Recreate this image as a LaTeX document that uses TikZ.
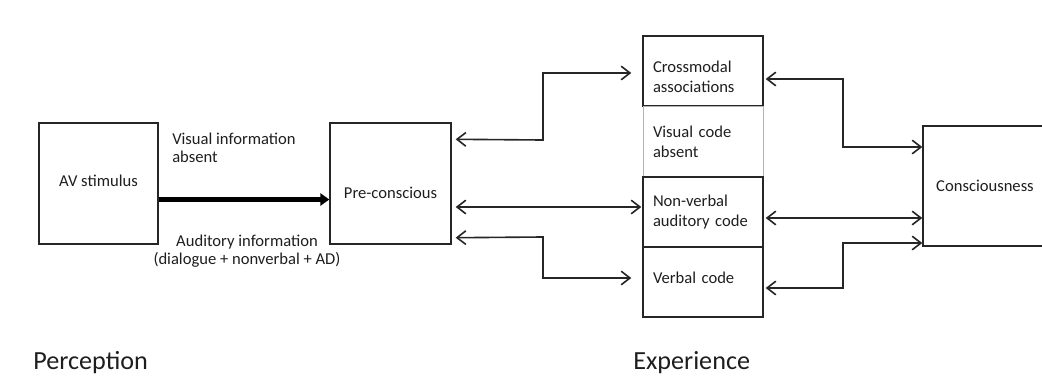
\documentclass[tikz,border=0pt]{standalone}
\usepackage{fontspec}
\setmainfont{Carlito}
\usepackage{tikz}
\usetikzlibrary{arrows.meta, positioning, calc}
\definecolor{lineclr}{HTML}{262626}
\definecolor{txtclr}{HTML}{1E1E1E}
\definecolor{faintclr}{HTML}{B4B4B4}

\begin{document}
\begin{tikzpicture}[
    x=0.025cm, y=-0.025cm,
    box/.style={rectangle, draw=lineclr, line width=1pt, minimum width=#1*0.025cm,
                minimum height=121*0.025cm, inner sep=0pt, font=\fontsize{11.8}{14}\selectfont, text=txtclr},
    codebox/.style={rectangle, draw=lineclr, line width=1pt, minimum width=120*0.025cm,
                    minimum height=#1*0.025cm, inner sep=0pt, text width=100*0.025cm, align=left,
                    font=\fontsize{11.8}{14.2}\selectfont, text=txtclr},
    boxtext/.style={font=\fontsize{11.8}{14.2}\selectfont, text=txtclr, inner sep=0pt, yshift=#1*0.025cm},
    biarrow/.style={{Straight Barb[length=2.2mm, width=3.4mm]}-{Straight Barb[length=2.2mm, width=3.4mm]},
                    line width=1.15pt, color=lineclr},
    thickarrow/.style={-{Triangle[length=2.2mm, width=3mm]}, line width=4.2pt, color=black},
    lbl/.style={font=\fontsize{11.8}{12.8}\selectfont, text=txtclr, inner sep=0pt},
    heading/.style={font=\fontsize{18.6}{22}\selectfont, text=txtclr, inner sep=0pt, anchor=west}
]
\useasboundingbox (0,0) rectangle (1042,377);
\clip (0,0) rectangle (1042,377);

\node[box=119, label={[boxtext=3]center:AV stimulus}] (stim) at (98.5,183.5) {};
\node[box=121, label={[boxtext=-9]center:Pre-conscious}] (pre) at (390.5,183.5) {};

\node[codebox=70, label={[boxtext=-6, text width=100*0.025cm, align=left]center:{Crossmodal\\associations}}]
      (cross) at (703,71) {};
\node[codebox=71, draw=faintclr, line width=0.5pt] (visab) at (703,141.5) {Visual code\\absent};
\node[codebox=70] (nonverb) at (703,212) {Non-verbal\\auditory code};
\node[codebox=70, label={[boxtext=4, text width=100*0.025cm, align=left]center:Verbal code}]
      (verbal) at (703,282) {};

\node[box=124, minimum height=120*0.025cm] (consc) at (985,186) {Consciousness};

\draw[thickarrow] ($(stim.east)+(0,16)$) -- ($(pre.west)+(0,16)$);
\node[lbl, anchor=west, align=left] (vislbl) at (172,148) {Visual information\\absent};
\node[lbl, align=center] (audlbl) at (247,251) {Auditory information\\(dialogue + nonverbal + AD)};

\draw[biarrow] ($(pre.north east)+(4,17)$) -- (543,140) |- ($(cross.west)+(-11,2)$);
\draw[biarrow] ($(pre.east)+(4,23.5)$) -- ($(nonverb.west)+(-1,-5)$);
\draw[biarrow] ($(pre.south east)+(4,-7)$) -- (543,237) |- ($(verbal.west)+(-11,-4)$);

\draw[biarrow] ($(cross.east)+(2,8)$) -- (843,79) |- ($(consc.west)+(0,-39)$);
\draw[biarrow] ($(nonverb.east)+(2,6)$) -- ($(consc.west)+(0,32)$);
\draw[biarrow] ($(verbal.east)+(2,6)$) -- (843,288) |- ($(consc.west)+(0,57)$);

\node[heading] (percep) at (33,363) {Perception};
\node[heading] (exper)  at (633,363) {Experience};
\end{tikzpicture}
\end{document}
